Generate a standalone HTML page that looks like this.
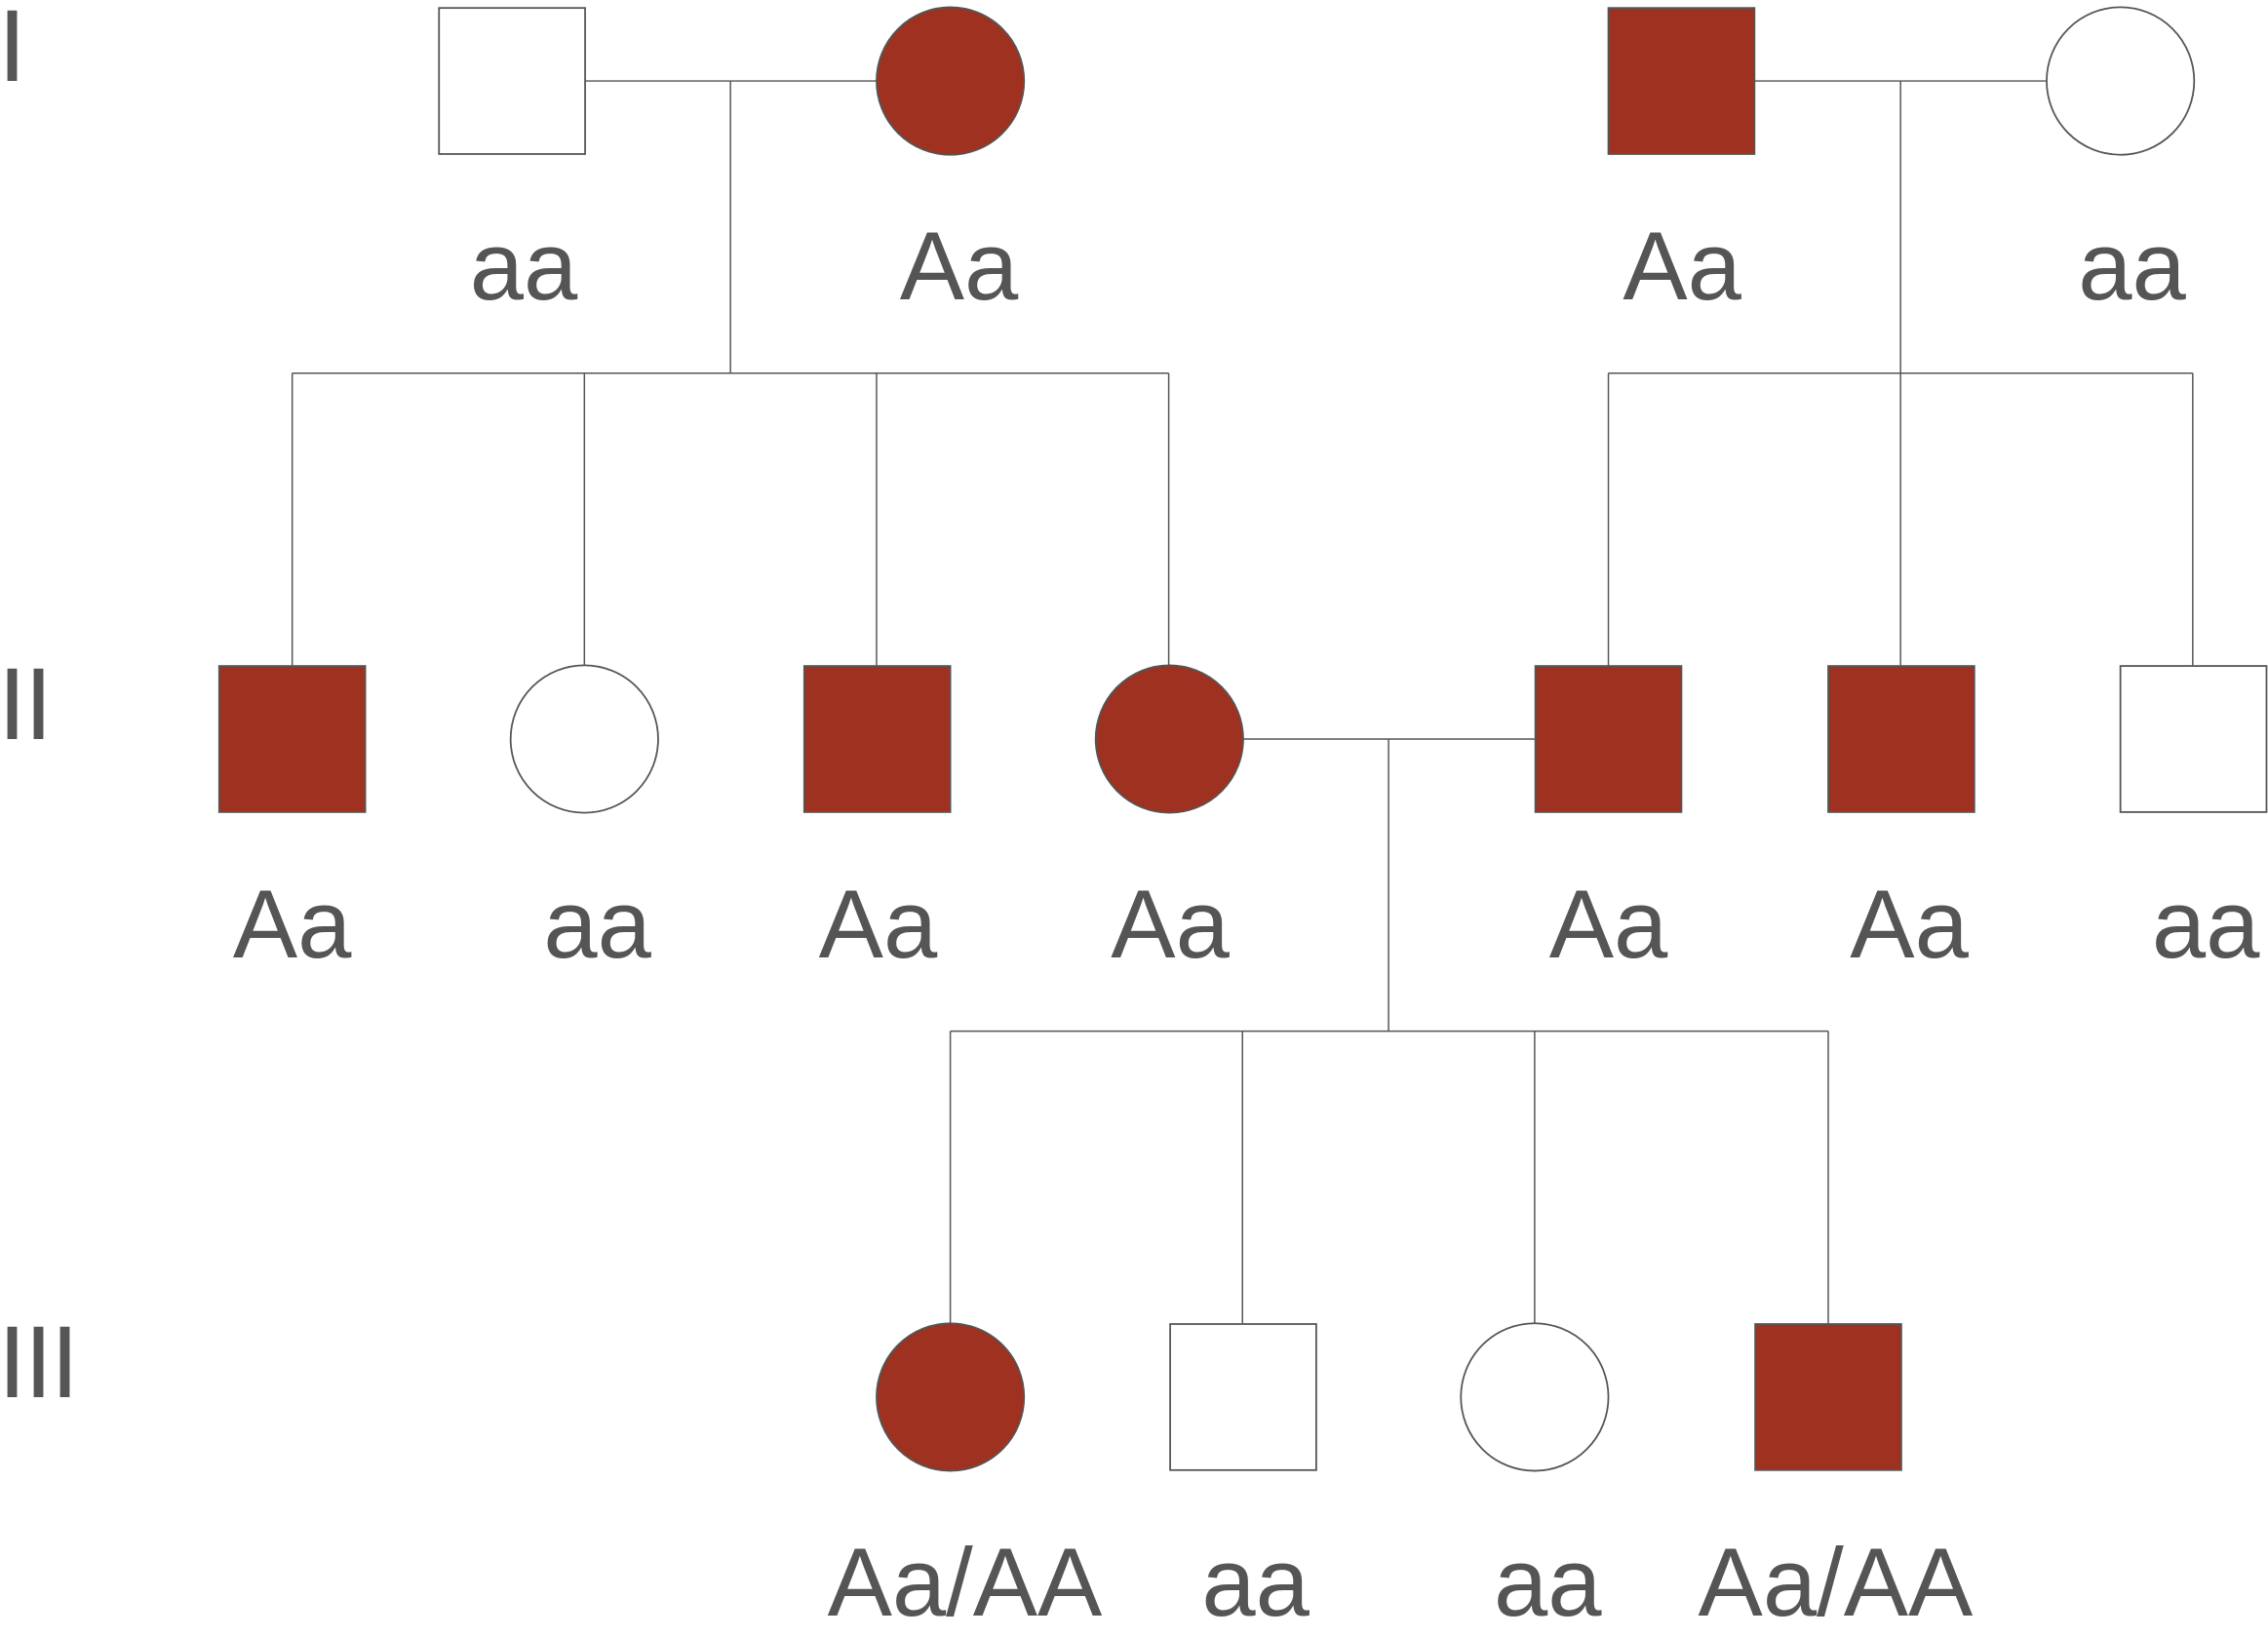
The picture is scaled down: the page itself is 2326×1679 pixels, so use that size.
<!DOCTYPE html>
<html><head><meta charset="utf-8"><style>
html,body{margin:0;padding:0;background:#fff;width:2326px;height:1679px;overflow:hidden}
svg{display:block}
text{font-family:"Liberation Sans",Arial,sans-serif;fill:#555}
</style></head><body>
<svg width="2326" height="1679" viewBox="0 0 1568 1131.9" xmlns="http://www.w3.org/2000/svg">
<g stroke="#555" stroke-width="1" fill="none">
<line x1="404" y1="56" x2="606" y2="56"/>
<line x1="505" y1="56" x2="505" y2="258"/>
<line x1="1213" y1="56" x2="1415" y2="56"/>
<line x1="1314" y1="56" x2="1314" y2="258"/>
<line x1="202" y1="258" x2="808" y2="258"/>
<line x1="202" y1="258" x2="202" y2="460"/>
<line x1="404" y1="258" x2="404" y2="460"/>
<line x1="606" y1="258" x2="606" y2="460"/>
<line x1="808" y1="258" x2="808" y2="460"/>
<line x1="1112" y1="258" x2="1516" y2="258"/>
<line x1="1112" y1="258" x2="1112" y2="460"/>
<line x1="1314" y1="258" x2="1314" y2="460"/>
<line x1="1516" y1="258" x2="1516" y2="460"/>
<line x1="859" y1="511" x2="1061" y2="511"/>
<line x1="960" y1="511" x2="960" y2="713"/>
<line x1="657" y1="713" x2="1264" y2="713"/>
<line x1="657" y1="713" x2="657" y2="915"/>
<line x1="859" y1="713" x2="859" y2="915"/>
<line x1="1061" y1="713" x2="1061" y2="915"/>
<line x1="1264" y1="713" x2="1264" y2="915"/>
</g>
<g stroke="#555" stroke-width="1.2">
<rect x="303.5" y="5.5" width="101" height="101" fill="#fff"/>
<circle cx="657" cy="56" r="51" fill="#9e3120"/>
<rect x="1112" y="5.5" width="101" height="101" fill="#9e3120"/>
<circle cx="1466" cy="56" r="51" fill="#fff"/>
<rect x="151.5" y="460.5" width="101" height="101" fill="#9e3120"/>
<circle cx="404" cy="511" r="51" fill="#fff"/>
<rect x="556" y="460.5" width="101" height="101" fill="#9e3120"/>
<circle cx="808.5" cy="511" r="51" fill="#9e3120"/>
<rect x="1061.5" y="460.5" width="101" height="101" fill="#9e3120"/>
<rect x="1264" y="460.5" width="101" height="101" fill="#9e3120"/>
<rect x="1466" y="460.5" width="101" height="101" fill="#fff"/>
<circle cx="657" cy="966" r="51" fill="#9e3120"/>
<rect x="809" y="915.5" width="101" height="101" fill="#fff"/>
<circle cx="1061" cy="966" r="51" fill="#fff"/>
<rect x="1213.5" y="915.5" width="101" height="101" fill="#9e3120"/>
</g>
<g font-size="67" text-anchor="middle">
<text x="362" y="207">aa</text>
<text x="663" y="207">Aa</text>
<text x="1163" y="207">Aa</text>
<text x="1474" y="207">aa</text>
<text x="202" y="662">Aa</text>
<text x="413" y="662">aa</text>
<text x="607" y="662">Aa</text>
<text x="809" y="662">Aa</text>
<text x="1112" y="662">Aa</text>
<text x="1320" y="662">Aa</text>
<text x="1525" y="662">aa</text>
<text x="667" y="1117">Aa/AA</text>
<text x="868" y="1117">aa</text>
<text x="1070" y="1117">aa</text>
<text x="1269" y="1117">Aa/AA</text>
</g>
<g font-size="71">
<text x="-1.5" y="56">I</text>
<text x="-1.5" y="511" letter-spacing="-1.5">II</text>
<text x="-1.5" y="966" letter-spacing="-1.5">III</text>
</g>
</svg>
</body></html>
